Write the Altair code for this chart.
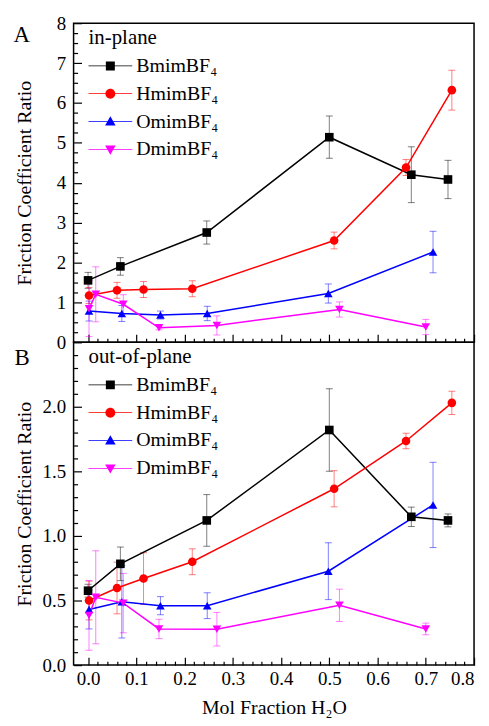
import altair as alt
import pandas as pd

FONT = "Liberation Serif"
series = ["BmimBF₄", "HmimBF₄", "OmimBF₄", "DmimBF₄"]
colors = ["#000000", "#ff0000", "#0000ff", "#ff00ff"]
shapes = ["square", "circle", "triangle-up", "triangle-down"]

# ---- Panel A: in-plane ----
a_B_x = [0.0, 0.067, 0.246, 0.5, 0.67, 0.746]
a_B_y = [1.55, 1.90, 2.75, 5.14, 4.20, 4.08]
a_B_e = [0.20, 0.22, 0.29, 0.53, 0.70, 0.48]
a_H_x = [0.002, 0.06, 0.115, 0.216, 0.51, 0.659, 0.754]
a_H_y = [1.17, 1.30, 1.32, 1.34, 2.55, 4.38, 6.32]
a_H_e = [0.20, 0.20, 0.20, 0.20, 0.21, 0.20, 0.50]
a_O_x = [0.002, 0.07, 0.15, 0.247, 0.498, 0.715]
a_O_y = [0.78, 0.72, 0.68, 0.72, 1.22, 2.26]
a_O_e = [0.25, 0.20, 0.10, 0.18, 0.24, 0.52]
a_D_x = [0.002, 0.016, 0.073, 0.147, 0.267, 0.521, 0.70]
a_D_y = [0.84, 1.20, 0.95, 0.36, 0.42, 0.82, 0.38]
a_D_e = [0.70, 0.69, 0.24, 0.05, 0.24, 0.19, 0.19]

# ---- Panel B: out-of-plane ----
b_B_x = [0.0, 0.067, 0.246, 0.5, 0.67, 0.746]
b_B_y = [0.576, 0.784, 1.12, 1.82, 1.148, 1.12]
b_B_e = [0.05, 0.13, 0.20, 0.32, 0.075, 0.05]
b_H_x = [0.002, 0.06, 0.115, 0.216, 0.51, 0.659, 0.754]
b_H_y = [0.50, 0.597, 0.67, 0.80, 1.365, 1.735, 2.03]
b_H_e = [0.15, 0.20, 0.20, 0.10, 0.14, 0.06, 0.09]
b_O_x = [0.002, 0.07, 0.15, 0.247, 0.498, 0.715]
b_O_y = [0.43, 0.49, 0.46, 0.46, 0.727, 1.24]
b_O_e = [0.15, 0.28, 0.07, 0.10, 0.22, 0.33]
b_D_x = [0.002, 0.016, 0.073, 0.147, 0.267, 0.521, 0.70]
b_D_y = [0.385, 0.525, 0.48, 0.28, 0.278, 0.463, 0.28]
b_D_e = [0.27, 0.36, 0.23, 0.075, 0.13, 0.125, 0.045]

x_major = [0.0, 0.1, 0.2, 0.3, 0.4, 0.5, 0.6, 0.7, 0.8]
x_minor = [round(i * 0.02, 2) for i in range(41)]
a_y_major = [0, 1, 2, 3, 4, 5, 6, 7, 8]
a_y_minor = [i * 0.25 for i in range(33)]
b_y_major = [0.0, 0.5, 1.0, 1.5, 2.0]
b_y_minor = [round(i * 0.1, 1) for i in range(26)]

# legend symbols: line segment plus marker
LINE = "M-1,-0.034H3V0.034H-1Z "
legend_paths = [
    LINE + "M0.59,-0.41H1.41V0.41H0.59Z",
    LINE + "M1.45,0A0.45,0.45 0 1,1 0.55,0A0.45,0.45 0 1,1 1.45,0Z",
    LINE + "M1,-0.48L1.48,0.36L0.52,0.36Z",
    LINE + "M0.52,-0.36L1.48,-0.36L1,0.48Z",
]


def frame(groups):
    rows = []
    for name, xs, ys, es in groups:
        for x, y, e in zip(xs, ys, es):
            rows.append({"series": name, "x": x, "y": y, "lo": y - e, "hi": y + e})
    return pd.DataFrame(rows)


dfA = frame([(series[0], a_B_x, a_B_y, a_B_e), (series[1], a_H_x, a_H_y, a_H_e),
             (series[2], a_O_x, a_O_y, a_O_e), (series[3], a_D_x, a_D_y, a_D_e)])
dfB = frame([(series[0], b_B_x, b_B_y, b_B_e), (series[1], b_H_x, b_H_y, b_H_e),
             (series[2], b_O_x, b_O_y, b_O_e), (series[3], b_D_x, b_D_y, b_D_e)])

W = 403


def panel(df, letter, ldx, ldy, legend_title, ydom, ymaj, ymin, yfmt, ytest, H, bottom):
    base = alt.Chart(df)
    xs = alt.Scale(domain=[-0.03, 0.8], nice=False, zero=False)
    ys = alt.Scale(domain=ydom, nice=False, zero=False)
    cscale = alt.Scale(domain=series, range=colors)
    leg_kw = dict(orient="none", legendX=15, legendY=4, title=legend_title, titleFont=FONT,
                  titleFontSize=21, titleFontWeight="normal", titleColor="black",
                  titlePadding=7, labelFont=FONT, labelFontSize=20, labelColor="black",
                  labelOffset=26, symbolSize=484, rowPadding=7, symbolOpacity=1,
                  symbolStrokeWidth=0, padding=0)
    col = alt.Color("series:N", scale=cscale, legend=alt.Legend(**leg_kw))

    err = base.mark_errorbar(ticks={"size": 7}, thickness=1, opacity=0.5).encode(
        x=alt.X("x:Q", scale=xs, axis=None),
        y=alt.Y("lo:Q", scale=ys, axis=None),
        y2="hi:Q",
        color=col,
    )

    if bottom:
        xaxis = alt.Axis(values=x_major, format=".1f", ticks=False, domain=False, grid=False,
                         labelFont=FONT, labelFontSize=19, labelColor="black", labelPadding=5,
                         title="Mol Fraction H₂O", titleFont=FONT, titleFontSize=20,
                         titleFontWeight="normal", titleColor="black", titlePadding=9)
    else:
        xaxis = None
    yaxis = alt.Axis(values=ymaj, format=yfmt, ticks=False, domain=False, grid=False,
                     labelFont=FONT, labelFontSize=19, labelColor="black", labelPadding=8,
                     title="Friction Coefficient Ratio", titleFont=FONT, titleFontSize=20,
                     titleFontWeight="normal", titleColor="black", titleX=-43,
                     titleAngle=270, titleBaseline="alphabetic")

    line = base.mark_line(strokeWidth=1.5).encode(
        x=alt.X("x:Q", scale=xs, axis=xaxis),
        y=alt.Y("y:Q", scale=ys, axis=yaxis),
        color=col,
    )
    pts = [
        base.transform_filter(alt.datum.series == s).mark_point(
            filled=True, size=75, opacity=1, shape=sh).encode(
            x=alt.X("x:Q", scale=xs, axis=None),
            y=alt.Y("y:Q", scale=ys, axis=None),
            color=col,
        )
        for s, sh in zip(series, shapes)
    ]

    tick_common = dict(labels=False, domain=False, grid=False,
                       tickColor="black", tickWidth=1.2)
    # inward tick axes (the x one also carries the panel letter) and the legend shapes
    legl = base.transform_filter("false").mark_point(filled=True).encode(
        x=alt.X("x:Q", scale=xs, axis=alt.Axis(
            orient="top", offset=-H, values=x_minor,
            tickSize={"condition": {"test": "abs(datum.value*10 - round(datum.value*10)) < 1e-6", "value": 8}, "value": 4},
            title=letter, titleFont=FONT, titleFontSize=23, titleFontWeight="normal",
            titleColor="black", titleAngle=0, titleAlign="left", titleBaseline="alphabetic",
            titleX=ldx, titleY=ldy - H,
            **tick_common)),
        y=alt.Y("y:Q", scale=ys, axis=alt.Axis(
            orient="right", offset=-W, values=ymin, title=None,
            tickSize={"condition": {"test": ytest, "value": 8}, "value": 4},
            **tick_common)),
        color=col,
        shape=alt.Shape("series:N", scale=alt.Scale(domain=series, range=legend_paths),
                        legend=alt.Legend(**leg_kw)),
    )

    return alt.layer(err, line, *pts, legl).resolve_axis(
        x="independent", y="independent").properties(width=W, height=H)


top = panel(dfA, "A", -61, 18, "in-plane", [0, 8], a_y_major, a_y_minor, ".0f",
            "abs(datum.value - round(datum.value)) < 1e-6", 321, False)
bot = panel(dfB, "B", -60, 22, "out-of-plane", [0, 2.5], b_y_major, b_y_minor, ".1f",
            "abs(datum.value*2 - round(datum.value*2)) < 1e-6", 325, True)

chart = alt.vconcat(top, bot, spacing=0, bounds="flush").resolve_scale(
    color="independent", shape="independent"
).resolve_legend(color="independent", shape="independent").properties(
    padding={"left": 4, "top": 3, "right": 5, "bottom": 5}
).configure_view(stroke="black", strokeWidth=1.5)

chart.save("out.html", embed_options={"renderer": "svg", "actions": False})
